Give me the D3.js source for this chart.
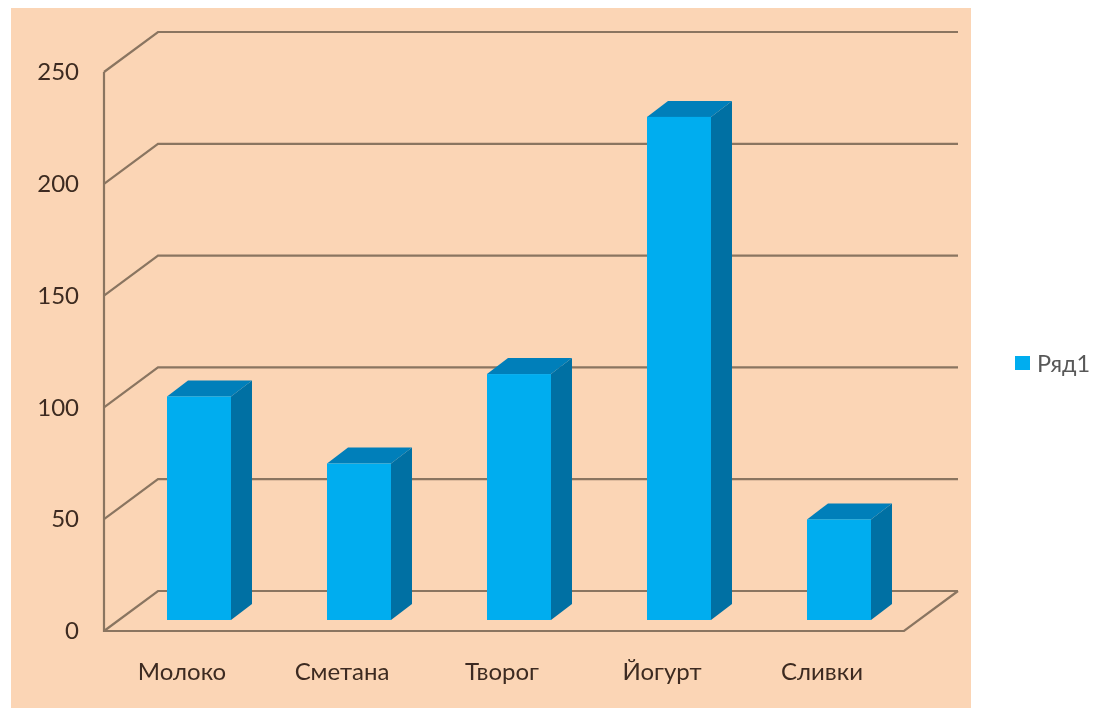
<!DOCTYPE html>
<html>
<head>
<meta charset="utf-8">
<script src="https://cdn.jsdelivr.net/npm/d3@7"></script>
<style>
  html, body { margin: 0; padding: 0; background: #fff; }
  text { font-family: Lato, "Open Sans", sans-serif; }
</style>
</head>
<body>
<svg id="chart" width="1103" height="708"></svg>
<script>
const categories = ['Молоко', 'Сметана', 'Творог', 'Йогурт', 'Сливки']
const values = [100, 70, 110, 225, 45]
const yTicks = [0, 50, 100, 150, 200, 250]
const seriesName = 'Ряд1'

// the reference is a soft upscaled screenshot
const root = d3.select('#chart')
root.append('defs').append('filter')
  .attr('id', 'soft')
  .attr('x', 0).attr('y', 0).attr('width', 1).attr('height', 1)
  .append('feGaussianBlur')
  .attr('stdDeviation', 0.6)

const svg = root.append('g').attr('filter', 'url(#soft)')

svg.append('rect')
  .attr('width', 1103).attr('height', 708)
  .attr('fill', '#fff')

// plot box, front plane of the 3d floor
const margin = {top: 72, right: 199, bottom: 77, left: 104}
const width = 1103, height = 708
const depth = {x: 54, y: -40}       // wall offset
const barShift = {x: 15, y: -11}    // where the bars stand on the floor
const barDepth = {x: 21, y: -16}

const xScale = d3.scaleBand()
  .domain(categories)
  .range([margin.left, width - margin.right])
  .paddingInner(0.6)
  .paddingOuter(0.3)

const yScale = d3.scaleLinear()
  .domain([0, 250])
  .range([height - margin.bottom, margin.top])

const lineColor = '#8a7561'

svg.append('rect')
  .attr('x', 11).attr('y', 8)
  .attr('width', 960).attr('height', 700)
  .attr('fill', '#fbd5b5')

const pts = a => a.map(p => p.join(',')).join(' ')

// walls: one polyline per tick
svg.append('g').selectAll('polyline')
  .data(yTicks)
  .enter()
  .append('polyline')
  .attr('fill', 'none')
  .attr('stroke', lineColor)
  .attr('stroke-width', 2.2)
  .attr('points', d => pts([
    [margin.left, yScale(d)],
    [margin.left + depth.x, yScale(d) + depth.y],
    [width - margin.right + depth.x, yScale(d) + depth.y]
  ]))

// floor front + right edge, left wall edge
svg.append('polyline')
  .attr('fill', 'none')
  .attr('stroke', lineColor)
  .attr('stroke-width', 2.2)
  .attr('points', pts([
    [margin.left, yScale(250)],
    [margin.left, yScale(0)],
    [width - margin.right, yScale(0)],
    [width - margin.right + depth.x, yScale(0) + depth.y]
  ]))

// bars
const barY = d => yScale(d) + barShift.y
const bars = svg.append('g').selectAll('g')
  .data(categories.map((c, i) => ({c, v: values[i]})))
  .enter()
  .append('g')
  .attr('transform', `translate(${barShift.x},0)`)

bars.append('polygon')
  .attr('fill', '#006fa3')
  .attr('points', d => {
    const x = xScale(d.c) + xScale.bandwidth()
    return pts([[x, barY(d.v)], [x + barDepth.x, barY(d.v) + barDepth.y],
      [x + barDepth.x, barY(0) + barDepth.y], [x, barY(0)]])
  })

bars.append('polygon')
  .attr('fill', '#007fba')
  .attr('points', d => {
    const x = xScale(d.c), w = xScale.bandwidth()
    return pts([[x, barY(d.v)], [x + barDepth.x, barY(d.v) + barDepth.y],
      [x + w + barDepth.x, barY(d.v) + barDepth.y], [x + w, barY(d.v)]])
  })

bars.append('rect')
  .attr('fill', '#00adef')
  .attr('x', d => xScale(d.c))
  .attr('y', d => barY(d.v))
  .attr('width', xScale.bandwidth())
  .attr('height', d => barY(0) - barY(d.v))

// axes
const yAxis = d3.axisLeft(yScale).tickValues(yTicks).tickSize(0).tickPadding(25)
const xAxis = d3.axisBottom(xScale).tickSize(0).tickPadding(32)

svg.append('g')
  .attr('transform', `translate(${margin.left},0)`)
  .call(yAxis)
  .call(g => g.select('.domain').remove())
  .selectAll('text')
  .attr('font-size', 24)
  .attr('fill', '#3d2c20')

svg.append('g')
  .attr('transform', `translate(-2,${height - margin.bottom})`)
  .call(xAxis)
  .call(g => g.select('.domain').remove())
  .selectAll('text')
  .attr('font-size', 24)
  .attr('fill', '#3d2c20')

// legend
svg.append('rect')
  .attr('x', 1015).attr('y', 356)
  .attr('width', 15).attr('height', 14)
  .attr('fill', '#00adef')

svg.append('text')
  .attr('x', 1037).attr('y', 372)
  .attr('font-size', 23.5)
  .attr('fill', '#595959')
  .text(seriesName)
</script>
</body>
</html>
